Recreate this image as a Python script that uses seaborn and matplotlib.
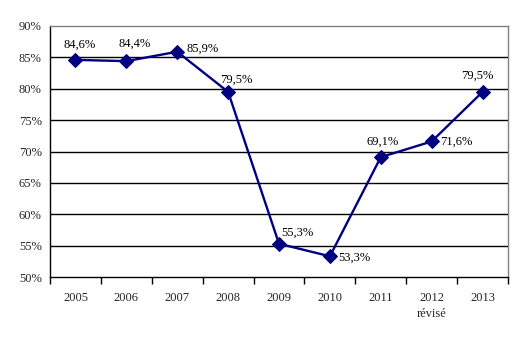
import matplotlib
matplotlib.use("Agg")
import matplotlib.pyplot as plt
import seaborn as sns
import pandas as pd
import numpy as np

years = ["2005", "2006", "2007", "2008", "2009", "2010", "2011", "2012\nrévisé", "2013"]
values = [84.6, 84.4, 85.9, 79.5, 55.3, 53.3, 69.1, 71.6, 79.5]
labels = ["84,6%", "84,4%", "85,9%", "79,5%", "55,3%", "53,3%", "69,1%", "71,6%", "79,5%"]
yticks = [50, 55, 60, 65, 70, 75, 80, 85, 90]
ytick_labels = ["50%", "55%", "60%", "65%", "70%", "75%", "80%", "85%", "90%"]
# label offsets in pixels (dx, dy) and horizontal alignment
label_offsets = [(4, 15, "center"), (8, 17, "center"), (9, 3, "left"), (8, 12, "center"),
                 (2, 11, "left"), (8, -1, "left"), (2, 15, "center"), (8, 0, "left"), (-5, 16, "center")]

sns.set_style("white")
plt.rcParams["font.family"] = ["Liberation Serif", "DejaVu Serif"]

df = pd.DataFrame({"x": np.arange(len(years)), "y": values})

fig = plt.figure(figsize=(5.22, 3.39), dpi=100)
ax = fig.add_axes([50 / 522, 1 - 277 / 339, 458 / 522, 251 / 339])

for v in yticks[1:-1]:
    ax.axhline(v, color="black", lw=1.0, zorder=1)

sns.lineplot(data=df, x="x", y="y", ax=ax, color="#000080", marker="D",
             markersize=7, markeredgecolor="#000080", linewidth=1.7, zorder=3)

fs = 9
for i, (v, lab) in enumerate(zip(values, labels)):
    dx, dy, ha = label_offsets[i]
    ax.annotate(lab, (i, v), xytext=(dx, dy), textcoords="offset pixels",
                ha=ha, va="center", fontsize=fs, color="black")

ax.set_xlim(-0.5, len(years) - 0.5)
ax.set_ylim(50, 90)
ax.set_yticks(yticks)
ax.set_yticklabels(ytick_labels, fontsize=fs)
ax.set_xticks(np.arange(len(years)))
ax.set_xticklabels(years, fontsize=fs, linespacing=1.4)
ax.set_xticks(np.arange(len(years) + 1) - 0.5, minor=True)
ax.tick_params(axis="x", which="major", length=0, pad=11)
ax.tick_params(axis="x", which="minor", length=5, width=1, color="black", direction="out", bottom=True)
ax.tick_params(axis="y", which="major", length=0, pad=6)
ax.set_xlabel("")
ax.set_ylabel("")

for s in ["left", "bottom"]:
    ax.spines[s].set_color("black")
    ax.spines[s].set_linewidth(1.0)
for s in ["top", "right"]:
    ax.spines[s].set_color("#808080")
    ax.spines[s].set_linewidth(1.0)

fig.savefig("out.png", dpi=100)
